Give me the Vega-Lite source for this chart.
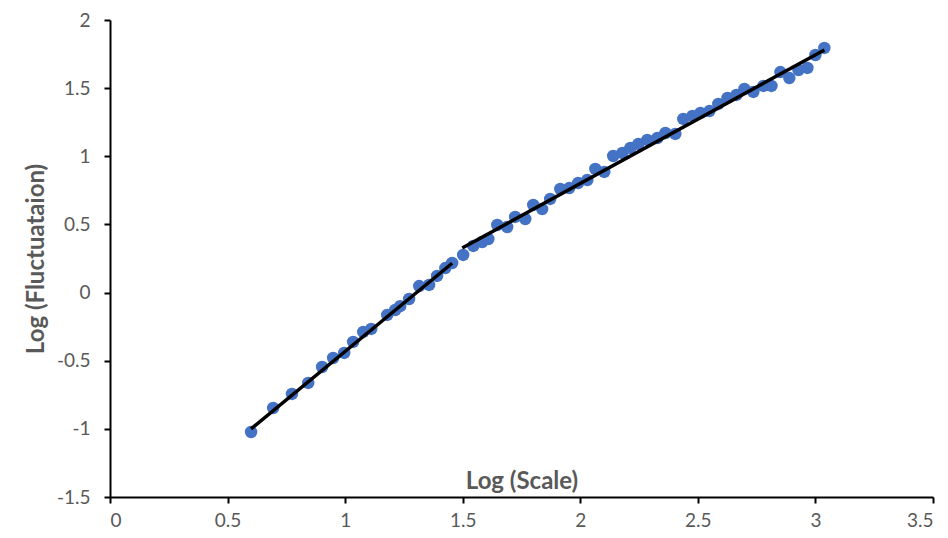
{
  "$schema": "https://vega.github.io/schema/vega-lite/v6.json",
  "width": 823,
  "height": 477,
  "autosize": {"type": "none"},
  "padding": {"left": 110, "top": 20, "right": 15, "bottom": 41},
  "background": "white",
  "config": {
    "view": {"stroke": null},
    "font": "Lato",
    "axis": {
      "grid": false,
      "domainColor": "black",
      "domainWidth": 2,
      "tickColor": "black",
      "tickWidth": 2,
      "tickSize": 6,
      "labelColor": "#595959",
      "labelFontSize": 19,
      "labelFont": "Lato",
      "labelExpr": "'' + datum.value",
      "titleColor": "#595959",
      "titleFont": "Lato",
      "titleFontWeight": "bold",
      "titleFontSize": 24
    }
  },
  "datasets": {
    "pts": [
      {"x": 0.600, "y": -1.023},
      {"x": 0.694, "y": -0.847},
      {"x": 0.774, "y": -0.744},
      {"x": 0.843, "y": -0.663},
      {"x": 0.902, "y": -0.546},
      {"x": 0.949, "y": -0.480},
      {"x": 0.996, "y": -0.443},
      {"x": 1.034, "y": -0.362},
      {"x": 1.077, "y": -0.289},
      {"x": 1.111, "y": -0.267},
      {"x": 1.179, "y": -0.164},
      {"x": 1.213, "y": -0.128},
      {"x": 1.234, "y": -0.100},
      {"x": 1.272, "y": -0.047},
      {"x": 1.315, "y": 0.048},
      {"x": 1.357, "y": 0.056},
      {"x": 1.391, "y": 0.122},
      {"x": 1.426, "y": 0.180},
      {"x": 1.455, "y": 0.217},
      {"x": 1.502, "y": 0.276},
      {"x": 1.545, "y": 0.342},
      {"x": 1.583, "y": 0.371},
      {"x": 1.609, "y": 0.393},
      {"x": 1.647, "y": 0.496},
      {"x": 1.689, "y": 0.481},
      {"x": 1.723, "y": 0.555},
      {"x": 1.766, "y": 0.540},
      {"x": 1.800, "y": 0.643},
      {"x": 1.838, "y": 0.613},
      {"x": 1.872, "y": 0.687},
      {"x": 1.915, "y": 0.760},
      {"x": 1.953, "y": 0.767},
      {"x": 1.991, "y": 0.804},
      {"x": 2.030, "y": 0.826},
      {"x": 2.064, "y": 0.907},
      {"x": 2.102, "y": 0.885},
      {"x": 2.140, "y": 1.002},
      {"x": 2.179, "y": 1.024},
      {"x": 2.213, "y": 1.061},
      {"x": 2.247, "y": 1.090},
      {"x": 2.285, "y": 1.120},
      {"x": 2.328, "y": 1.134},
      {"x": 2.362, "y": 1.171},
      {"x": 2.404, "y": 1.164},
      {"x": 2.438, "y": 1.274},
      {"x": 2.477, "y": 1.296},
      {"x": 2.511, "y": 1.318},
      {"x": 2.549, "y": 1.332},
      {"x": 2.587, "y": 1.384},
      {"x": 2.626, "y": 1.428},
      {"x": 2.664, "y": 1.450},
      {"x": 2.698, "y": 1.494},
      {"x": 2.736, "y": 1.472},
      {"x": 2.779, "y": 1.516},
      {"x": 2.813, "y": 1.516},
      {"x": 2.851, "y": 1.618},
      {"x": 2.889, "y": 1.574},
      {"x": 2.928, "y": 1.633},
      {"x": 2.966, "y": 1.648},
      {"x": 3.000, "y": 1.743},
      {"x": 3.038, "y": 1.795}
    ],
    "fits": [
      {"seg": "a", "x": 0.600, "y": -1.000},
      {"seg": "a", "x": 1.455, "y": 0.215},
      {"seg": "b", "x": 1.498, "y": 0.327},
      {"seg": "b", "x": 3.038, "y": 1.780}
    ]
  },
  "layer": [
    {
      "data": {"name": "pts"},
      "mark": {"type": "circle", "size": 155, "color": "#4472C4", "opacity": 1},
      "encoding": {
        "x": {
          "field": "x", "type": "quantitative",
          "scale": {"domain": [0, 3.5], "nice": false, "zero": false},
          "axis": {
            "title": "Log (Scale)",
            "values": [0, 0.5, 1, 1.5, 2, 2.5, 3, 3.5],
            "labelPadding": 8,
            "titleBaseline": "bottom",
            "titleY": -4,
            "titleAnchor": "middle"
          }
        },
        "y": {
          "field": "y", "type": "quantitative",
          "scale": {"domain": [-1.5, 2], "nice": false, "zero": false},
          "axis": {
            "title": "Log (Fluctuataion)",
            "values": [-1.5, -1, -0.5, 0, 0.5, 1, 1.5, 2],
            "labelPadding": 14,
            "titlePadding": 8
          }
        }
      }
    },
    {
      "data": {"name": "fits"},
      "mark": {"type": "line", "color": "black", "strokeWidth": 3.5},
      "encoding": {
        "x": {"field": "x", "type": "quantitative"},
        "y": {"field": "y", "type": "quantitative"},
        "detail": {"field": "seg", "type": "nominal"}
      }
    }
  ]
}
